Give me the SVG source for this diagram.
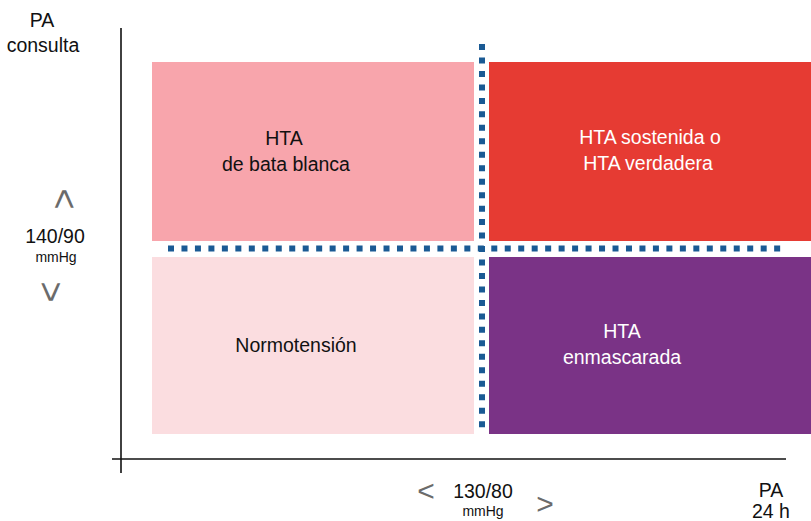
<svg xmlns="http://www.w3.org/2000/svg" width="811" height="521" viewBox="0 0 811 521">
<style>
text{font-family:"Liberation Sans",Arial,Helvetica,sans-serif;text-anchor:middle}
.t{font-size:19.5px;fill:#111}
.w{font-size:19.5px;fill:#fff}
.s{font-size:14px;fill:#111}
.g{font-size:30px;fill:#6b6b6b}
.c{font-size:36px;fill:#6b6b6b;dominant-baseline:central}
.axis{stroke:#111;stroke-width:1.6;fill:none}
.dot{stroke:#1a5a94;stroke-width:6;stroke-dasharray:6 7.47;fill:none}
</style>
<rect width="811" height="521" fill="#fff"/>
<g id="q-bata-blanca"><rect x="152" y="62" width="322" height="179" fill="#f8a5ac"/><text class="t" x="284" y="145">HTA</text><text class="t" x="286" y="171">de bata blanca</text></g>
<g id="q-sostenida"><rect x="489" y="62" width="322" height="179" fill="#e63b33"/><text class="w" x="650" y="144">HTA sostenida o</text><text class="w" x="648" y="170">HTA verdadera</text></g>
<g id="q-normotension"><rect x="152" y="257" width="322" height="177" fill="#fbdde0"/><text class="t" x="296" y="352">Normotensión</text></g>
<g id="q-enmascarada"><rect x="489" y="257" width="322" height="177" fill="#7a3386"/><text class="w" x="622" y="338">HTA</text><text class="w" x="622" y="364">enmascarada</text></g>
<g id="connectors">
<line class="axis" x1="121" y1="28" x2="121" y2="473"/>
<line class="axis" x1="112" y1="459" x2="786" y2="459"/>
<line class="dot" x1="482" y1="44" x2="482" y2="428"/>
<line class="dot" x1="168" y1="248.5" x2="781" y2="248.5"/>
</g>
<g id="labels">
<text class="t" x="42" y="27">PA</text>
<text class="t" x="43" y="52">consulta</text>
<text class="c" transform="translate(64,199) rotate(90)" x="0" y="0">&lt;</text>
<text class="t" x="55" y="243">140/90</text>
<text class="s" x="56" y="262">mmHg</text>
<text class="c" transform="translate(50,292) rotate(-90)" x="0" y="0">&lt;</text>
<text class="g" x="426" y="501">&lt;</text>
<text class="t" x="483" y="498">130/80</text>
<text class="s" x="483" y="516">mmHg</text>
<text class="g" x="545" y="514">&gt;</text>
<text class="t" x="771" y="497">PA</text>
<text class="t" x="771" y="518">24 h</text>
</g>
</svg>
